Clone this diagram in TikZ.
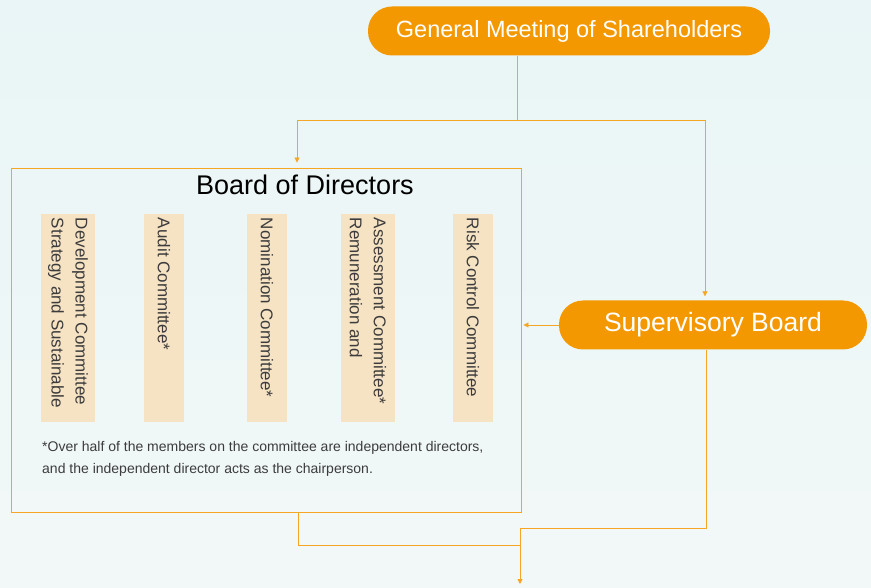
\documentclass[tikz,border=0pt]{standalone}
\usepackage{fontspec}
\setmainfont{Liberation Sans}
\usetikzlibrary{arrows.meta}

\definecolor{pillorange}{RGB}{243,152,0}
\definecolor{linkorange}{RGB}{245,166,35}
\definecolor{cmtefill}{RGB}{246,227,196}
\definecolor{bgtop}{RGB}{233,245,246}
\definecolor{bgbottom}{RGB}{242,248,247}
\definecolor{notegrey}{RGB}{60,60,60}

\begin{document}
\begin{tikzpicture}[x=1pt,y=-1pt,
  pill/.style={fill=pillorange, rounded corners=24pt, text=white, minimum height=49pt, inner sep=0pt},
  cmte/.style={fill=cmtefill, rotate=-90, minimum height=#1, text width=200pt, minimum width=208pt,
    align=flush left, inner xsep=4pt, inner ysep=6pt, text=notegrey, font=\fontsize{17}{24}\selectfont},
  cmte/.default=40pt,
  link/.style={draw=linkorange, line width=0.9pt},
  tip/.style={-{Triangle[width=5pt,length=5pt]}}]

  % background
  \useasboundingbox (0,0) rectangle (871,588);
  \shade[top color=bgtop, bottom color=bgbottom] (0,0) rectangle (871,588);

  % top and side boxes
  \node[pill, minimum width=402pt, font=\fontsize{23.5}{26}\selectfont] (gms) at (569,31) {General Meeting of Shareholders};
  \node[pill, minimum width=308pt, font=\fontsize{26.5}{30}\selectfont] (sb) at (713,325) {Supervisory Board};

  % board of directors
  \node[draw=linkorange, line width=0.9pt, minimum width=510pt, minimum height=344pt, inner sep=0pt] (board) at (266,340) {};
  \node[font=\fontsize{27}{30}\selectfont] (title) at (305,185) {Board of Directors};

  % committees
  \node[cmte=54pt] (strategy) at (68,318) {Development Committee\\Strategy and Sustainable};
  \node[cmte] (audit) at (164,318) {Audit Committee*};
  \node[cmte] (nomination) at (267,318) {Nomination Committee*};
  \node[cmte=54pt] (remuneration) at (368,318) {Assessment Committee*\\Remuneration and};
  \node[cmte] (risk) at (473,318) {Risk Control Committee};

  \node[anchor=north west, align=left, inner sep=0pt, text=notegrey, font=\fontsize{14}{22}\selectfont] (note) at (42,441)
    {*Over half of the members on the committee are independent directors,\\and the independent director acts as the chairperson.};

  % connectors
  \coordinate (split) at (517,120);
  \coordinate (toboard) at (297,120);
  \coordinate (tosuper) at (705,120);
  \coordinate (sbdrop) at (706,528);
  \coordinate (bddrop) at (298,545);
  \coordinate (out) at (520,584);

  \draw[link] (gms.south -| split) -- (split);
  \draw[link] (toboard) -- (tosuper);
  \draw[link,tip,shorten >=5pt] (toboard) -- (toboard |- board.north);
  \draw[link,tip,shorten >=4pt] (tosuper) -- (tosuper |- sb.north);
  \draw[link,tip,shorten >=2pt] (sb.west) -- (sb.west -| board.east);
  \draw[link,tip] (sbdrop |- sb.south) -- (sbdrop) -| (out);
  \draw[link] (bddrop |- board.south) -- (bddrop) -- (bddrop -| out);
\end{tikzpicture}
\end{document}
